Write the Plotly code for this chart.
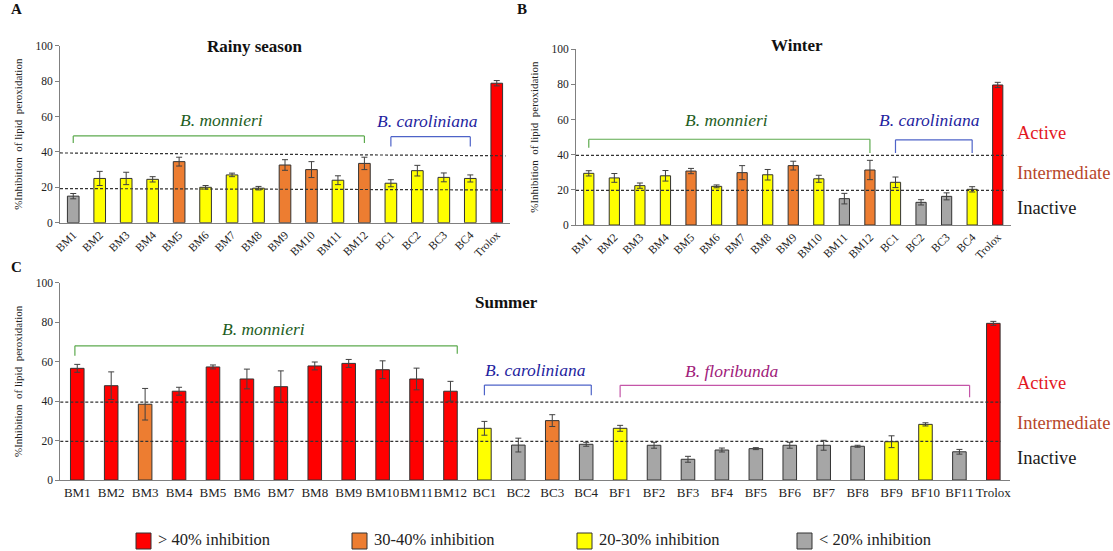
import plotly.graph_objects as go

# ---------------- data ----------------
cats_ab = ["BM1", "BM2", "BM3", "BM4", "BM5", "BM6", "BM7", "BM8", "BM9", "BM10",
           "BM11", "BM12", "BC1", "BC2", "BC3", "BC4", "Trolox"]
cats_c = ["BM1", "BM2", "BM3", "BM4", "BM5", "BM6", "BM7", "BM8", "BM9", "BM10",
          "BM11", "BM12", "BC1", "BC2", "BC3", "BC4", "BF1", "BF2", "BF3", "BF4",
          "BF5", "BF6", "BF7", "BF8", "BF9", "BF10", "BF11", "Trolox"]

rainy_vals = [15, 25, 25, 24.5, 34.5, 20, 27, 19.5, 32.6, 30, 24, 33.5, 22.3, 29.4, 25.6, 25, 78.8]
rainy_err = [1.5, 4, 3.5, 1.5, 2.5, 1, 1, 1, 3, 4.5, 2.5, 3.5, 2, 3, 2.5, 2, 1.5]
rainy_cls = ["g", "y", "y", "y", "o", "y", "y", "y", "o", "o", "y", "o", "y", "y", "y", "y", "r"]

winter_vals = [29.4, 26.8, 22.4, 28, 30.7, 22, 29.8, 28.6, 33.8, 26.3, 15, 31.3, 24.3, 12.9, 16.3, 20.3, 79.7]
winter_err = [1.5, 2.5, 1.5, 3, 1.5, 0.8, 4, 3, 2.5, 2, 3, 5.5, 3, 1.5, 2, 1.5, 1.5]
winter_cls = ["y", "y", "y", "y", "o", "y", "o", "y", "o", "y", "g", "o", "y", "g", "g", "y", "r"]

summer_vals = [56.6, 47.8, 38.4, 45, 57.3, 51.2, 47.3, 57.8, 59.1, 55.9, 51.2, 45,
               26.2, 17.7, 30.1, 18.1,
               26.2, 17.6, 10.5, 15.2, 15.9, 17.6, 17.6, 17.1, 19.4, 28.2, 14.3, 79.4]
summer_err = [2, 7, 8, 2, 1, 5, 8, 2, 2, 4.5, 5.5, 5,
              3.5, 3.5, 3, 1,
              1.5, 1.5, 1.5, 1, 0.5, 1.5, 2.5, 0.5, 3, 0.8, 1.2, 1]
summer_cls = ["r", "r", "o", "r", "r", "r", "r", "r", "r", "r", "r", "r",
              "y", "g", "o", "g",
              "y", "g", "g", "g", "g", "g", "g", "g", "y", "y", "g", "r"]

legend_labels = ["> 40% inhibition", "30-40% inhibition", "20-30% inhibition", "< 20% inhibition"]
legend_keys = ["r", "o", "y", "g"]

level_labels = ["Active", "Intermediate", "Inactive"]

# ---------------- style ----------------
COL = {"r": "#FF0000", "o": "#ED7D31", "y": "#FFFF00", "g": "#A6A6A6"}
SERIF = "Liberation Serif, DejaVu Serif, serif"
W, H = 1113, 551

GREEN_T, GREEN_L = "#1E5E1E", "#5DAA4E"
BLUE_T, BLUE_L = "#1F1FA0", "#4E63C8"
PURP_T, PURP_L = "#A0207A", "#C455A8"

fig = go.Figure()


def add_bars(cats, vals, errs, cls, xa, ya, width):
    fig.add_trace(go.Bar(
        x=cats, y=vals, xaxis=xa, yaxis=ya, width=width,
        marker=dict(color=[COL[c] for c in cls], line=dict(color="#333333", width=1)),
        error_y=dict(type="data", array=errs, color="#404040", thickness=1, width=3),
        showlegend=False, hoverinfo="x+y",
    ))


add_bars(cats_ab, rainy_vals, rainy_err, rainy_cls, "x", "y", 0.44)
add_bars(cats_ab, winter_vals, winter_err, winter_cls, "x2", "y2", 0.40)
add_bars(cats_c, summer_vals, summer_err, summer_cls, "x3", "y3", 0.40)


def px2x(p):
    return p / W


def px2y(p):
    return 1 - p / H


ax_common = dict(showline=True, linecolor="#808080", linewidth=1, showgrid=False,
                 zeroline=False, fixedrange=True, automargin=False)

xdom = {"A": [px2x(60), px2x(510)], "B": [px2x(576), px2x(1010.5)], "C": [px2x(60.3), px2x(1010.3)]}
ydom = {"A": [px2y(222.7), px2y(45.7)], "B": [px2y(225), px2y(49.3)], "C": [px2y(480), px2y(282.7)]}

ytitle = "%Inhibition  of lipid  peroxidation"

layout = dict(
    width=W, height=H, margin=dict(l=0, r=0, t=0, b=0, pad=0, autoexpand=False),
    plot_bgcolor="white", paper_bgcolor="white",
    font=dict(family=SERIF, color="#222222"),
    showlegend=False,
)

for key, xn, yn, cats, rot, fs in [("A", "xaxis", "yaxis", cats_ab, -45, 11.5),
                                  ("B", "xaxis2", "yaxis2", cats_ab, -45, 11.5),
                                  ("C", "xaxis3", "yaxis3", cats_c, 0, 13)]:
    suffix = "" if key == "A" else ("2" if key == "B" else "3")
    layout[xn] = dict(ax_common, domain=xdom[key], anchor="y" + suffix, type="category",
                      categoryorder="array", categoryarray=cats,
                      range=[-0.5, len(cats) - 0.5], ticks="", tickangle=rot,
                      tickfont=dict(family=SERIF, size=fs, color="#222222"))
    layout[yn] = dict(ax_common, domain=ydom[key], anchor="x" + suffix, range=[0, 100],
                      tickvals=[0, 20, 40, 60, 80, 100], ticks="outside", ticklen=4,
                      tickcolor="#808080",
                      tickfont=dict(family=SERIF, size=11.5, color="#222222"),
                      title=dict(text=ytitle, font=dict(family=SERIF, size=11, color="#222222"),
                                 standoff=10))

fig.update_layout(**layout)

shapes = []
annots = []

# threshold dashed lines
dash_cfg = [("x", "y", [(39.4, 37.8), (19.3, 18.5)]),
            ("x2", "y2", [(39.6, 39.6), (19.7, 19.7)]),
            ("x3", "y3", [(39.5, 39.5), (19.6, 19.6)])]
for xa, ya, lines in dash_cfg:
    for (y0, y1) in lines:
        shapes.append(dict(type="line", xref=xa + " domain", yref=ya, x0=0, x1=0.99,
                           y0=y0, y1=y1, line=dict(color="#333333", width=1.2, dash="3px,2px")))


def bracket(xa, ya, x0, x1, ytop, ybot0, ybot1, color):
    shapes.append(dict(type="line", xref=xa, yref=ya, x0=x0, x1=x1, y0=ytop, y1=ytop,
                       line=dict(color=color, width=1.2)))
    shapes.append(dict(type="line", xref=xa, yref=ya, x0=x0, x1=x0, y0=ytop, y1=ybot0,
                       line=dict(color=color, width=1.2)))
    shapes.append(dict(type="line", xref=xa, yref=ya, x0=x1, x1=x1, y0=ytop, y1=ybot1,
                       line=dict(color=color, width=1.2)))


def species(xa, ya, x, y, text, color):
    annots.append(dict(xref=xa, yref=ya, x=x, y=y, text="<i>" + text + "</i>", showarrow=False,
                       xanchor="center", yanchor="middle",
                       font=dict(family=SERIF, size=17.5, color=color)))


# Panel A
bracket("x", "y", 0, 11, 49, 45, 45, GREEN_L)
bracket("x", "y", 12, 15, 48.6, 43, 43, BLUE_L)
species("x", "y", 5.6, 58, "B. monnieri", GREEN_T)
species("x", "y", 13.4, 57.5, "B. caroliniana", BLUE_T)
# Panel B
bracket("x2", "y2", 0, 11, 48.8, 44, 41, GREEN_L)
bracket("x2", "y2", 12, 15, 48.5, 41, 41, BLUE_L)
species("x2", "y2", 5.4, 59.5, "B. monnieri", GREEN_T)
species("x2", "y2", 13.35, 59.5, "B. caroliniana", BLUE_T)
# Panel C
bracket("x3", "y3", -0.07, 11.2, 68, 63, 64, GREEN_L)
bracket("x3", "y3", 12, 15.15, 48.1, 43, 43, BLUE_L)
bracket("x3", "y3", 16, 26.3, 48, 42, 42, PURP_L)
species("x3", "y3", 5.5, 76.5, "B. monnieri", GREEN_T)
species("x3", "y3", 13.5, 55.7, "B. caroliniana", BLUE_T)
species("x3", "y3", 19.3, 55.5, "B. floribunda", PURP_T)

# Titles & panel letters
for txt, x, y in [("Rainy season", 254, 46.5), ("Winter", 797, 46), ("Summer", 506, 302.5)]:
    annots.append(dict(xref="paper", yref="paper", x=px2x(x), y=px2y(y), text="<b>" + txt + "</b>",
                       xanchor="center", yanchor="middle",
                       showarrow=False, font=dict(family=SERIF, size=17, color="#111111")))
for txt, x, y in [("A", 9, 9), ("B", 515, 9), ("C", 9, 267)]:
    annots.append(dict(xref="paper", yref="paper", x=px2x(x), y=px2y(y), text="<b>" + txt + "</b>",
                       xanchor="left", yanchor="middle", showarrow=False,
                       font=dict(family=SERIF, size=15, color="#111111")))

# Activity labels
level_colors = ["#E3161E", "#B8472A", "#1A1A1A"]
for ys in [(132.7, 172.7, 208.3), (383.3, 422.7, 458.3)]:
    for lab, c, y in zip(level_labels, level_colors, ys):
        annots.append(dict(xref="paper", yref="paper", x=px2x(1015), y=px2y(y), text=lab,
                           xanchor="left", yanchor="middle", showarrow=False,
                           font=dict(family=SERIF, size=18.5, color=c)))

# Legend
leg_x = [136, 352, 577, 797]
for lab, k, x in zip(legend_labels, legend_keys, leg_x):
    shapes.append(dict(type="rect", xref="paper", yref="paper", x0=px2x(x), x1=px2x(x + 15),
                       y0=px2y(549), y1=px2y(533), fillcolor=COL[k],
                       line=dict(color="#333333", width=1)))
    annots.append(dict(xref="paper", yref="paper", x=px2x(x + 21), y=px2y(539.5), text=lab,
                       xanchor="left", yanchor="middle", showarrow=False, borderpad=0,
                       font=dict(family=SERIF, size=16.5, color="#222222")))

fig.update_layout(shapes=shapes, annotations=annots)
fig.write_html("out.html", config={"displayModeBar": False},
               post_script="document.body.style.margin='0';document.body.style.overflow='hidden';")
